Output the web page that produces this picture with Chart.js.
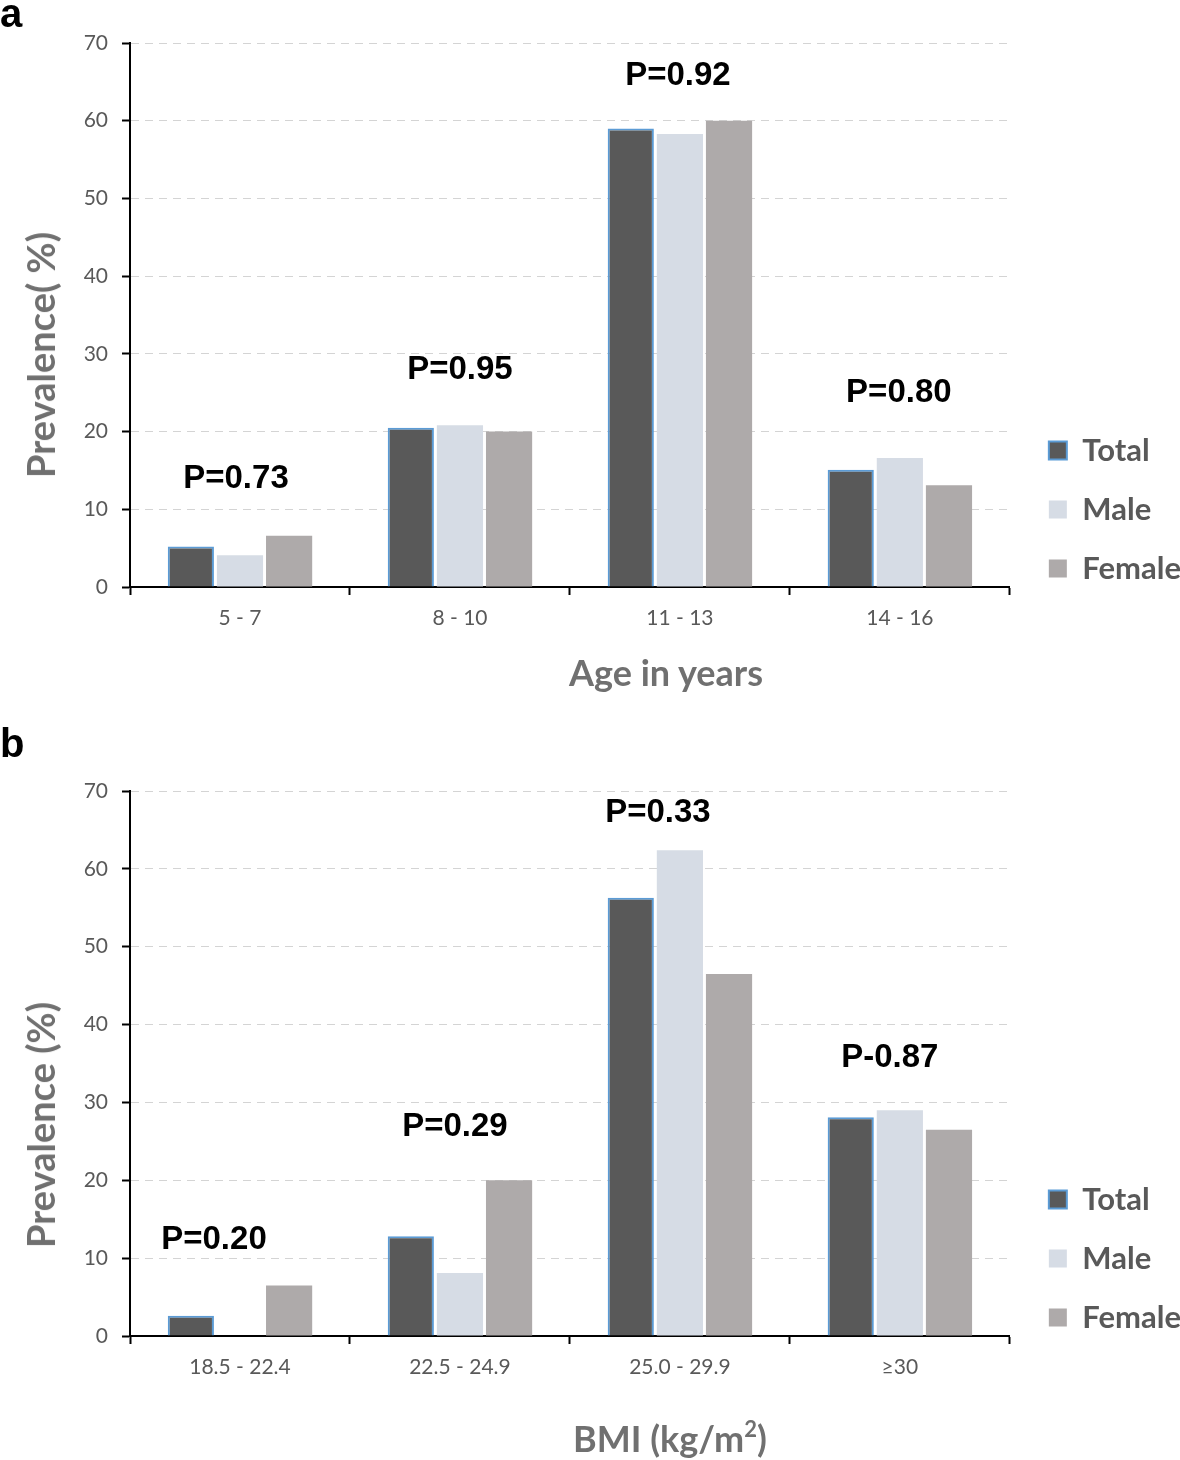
<!DOCTYPE html>
<html>
<head>
<meta charset="utf-8">
<script src="https://cdn.jsdelivr.net/npm/chart.js@4.4.1/dist/chart.umd.min.js"></script>
<style>
  body { margin: 0; background: #fff; overflow: hidden; }
  .panel { position: relative; width: 1180px; height: 730px; }
  .tag { position: absolute; left: 0; font: bold 40px "Liberation Sans", Arial, sans-serif; color: #000; line-height: 1; }
  .xt { position: absolute; transform: translateX(-50%); white-space: nowrap;
        font: bold 36px Lato, sans-serif; color: #707070; line-height: 1; }
  .xt sup { font-size: 22px; vertical-align: 15px; line-height: 0; }
  .yt { position: absolute; transform: translate(-50%, -50%) rotate(-90deg); white-space: nowrap;
        font: bold 38px Lato, sans-serif; color: #707070; line-height: 1; }
</style>
</head>
<body>
<div class="panel">
  <div class="tag" style="top:-7px">a</div>
  <canvas id="chartAge" width="1180" height="730"></canvas>
  <div class="yt" style="left:40px; top:355px">Prevalence( %)</div>
  <div class="xt" style="left:666px; top:654px">Age in years</div>
</div>
<div class="panel">
  <div class="tag" style="top:-7px">b</div>
  <canvas id="chartBmi" width="1180" height="730"></canvas>
  <div class="yt" style="left:40px; top:395px">Prevalence (%)</div>
  <div class="xt" style="left:670px; top:690px">BMI (kg/m<sup>2</sup>)</div>
</div>
<script>
// panel a - age groups
const ageLabels = ['5 - 7', '8 - 10', '11 - 13', '14 - 16'];
const ageTotal  = [5.2, 20.5, 59.0, 15.1];
const ageMale   = [4.1, 20.8, 58.3, 16.6];
const ageFemale = [6.6, 20.0, 60.0, 13.1];
const agePText  = ['P=0.73', 'P=0.95', 'P=0.92', 'P=0.80'];
const agePLevel = [13.9, 27.9, 65.8, 25.0];

// panel b - BMI groups
const bmiLabels = ['18.5 - 22.4', '22.5 - 24.9', '25.0 - 29.9', '≥30'];
const bmiTotal  = [2.6, 12.8, 56.3, 28.1];
const bmiMale   = [0, 8.1, 62.4, 29.0];
const bmiFemale = [6.5, 20.0, 46.5, 26.5];
const bmiPText  = ['P=0.20', 'P=0.29', 'P=0.33', 'P-0.87'];
const bmiPLevel = [12.3, 26.8, 67.2, 35.7];

const yTicks = [0, 10, 20, 30, 40, 50, 60, 70];

const GREY_TXT = '#595959';

// p-value text over each group
const pValuePlugin = {
  id: 'pValues',
  afterDatasetsDraw(chart, args, opts) {
    const ctx = chart.ctx;
    const x = chart.scales.x, y = chart.scales.y;
    ctx.save();
    ctx.font = 'bold 33px "Liberation Sans", Arial, sans-serif';
    ctx.fillStyle = '#000';
    ctx.textAlign = 'center';
    ctx.textBaseline = 'middle';
    opts.text.forEach((t, i) => {
      ctx.fillText(t, x.getPixelForValue(i) + (opts.shift[i] || 0), y.getPixelForValue(opts.level[i]));
    });
    ctx.restore();
  }
};

// nudge legend block into place
const legendNudge = {
  id: 'legendNudge',
  afterLayout(chart, args, opts) {
    const lg = chart.legend;
    lg.left += opts.dx; lg.right += opts.dx;
    lg.top += opts.dy; lg.bottom += opts.dy;
  }
};

function makeChart(id, labels, total, male, female, pText, pLevel, pShift, lay) {
  new Chart(document.getElementById(id), {
    type: 'bar',
    data: {
      labels: labels,
      datasets: [
        { label: 'Total', data: total, backgroundColor: '#595959', borderColor: '#5b9bd5', borderWidth: 2 },
        { label: 'Male', data: male, backgroundColor: '#d6dce5', borderWidth: 0 },
        { label: 'Female', data: female, backgroundColor: '#aeaaaa', borderWidth: 0 }
      ]
    },
    options: {
      responsive: false,
      animation: false,
      categoryPercentage: 0.67,
      barPercentage: 0.94,
      layout: { padding: { top: lay.top, left: 0, right: 0, bottom: 0 } },
      plugins: {
        tooltip: { enabled: false },
        legend: {
          position: 'right',
          align: 'end',
          fullSize: false,
          labels: {
            boxWidth: 18,
            boxHeight: 18,
            padding: 28,
            color: GREY_TXT,
            font: { family: 'Lato', size: 31, weight: 'bold' }
          }
        },
        pValues: { text: pText, level: pLevel, shift: pShift },
        legendNudge: { dx: 11, dy: 25 }
      },
      scales: {
        x: {
          afterFit(s) { s.height = lay.xHeight; },
          grid: { drawOnChartArea: false, drawTicks: true, tickLength: 8, tickColor: '#000', tickWidth: 2, offset: true },
          border: { display: true, color: '#000', width: 2 },
          ticks: { color: GREY_TXT, padding: 11, font: { family: 'Lato', size: 21 } }
        },
        y: {
          min: 0, max: 70,
          afterFit(s) { s.width = 130; },
          afterBuildTicks(s) { s.ticks = yTicks.map(v => ({ value: v })); },
          grid: { color: '#d4d4d4', lineWidth: 1, tickColor: '#000', tickWidth: 2, tickLength: 8, tickBorderDash: [] },
          border: { display: true, color: '#000', width: 2, dash: [8, 6] },
          ticks: { color: GREY_TXT, padding: 14, font: { family: 'Lato', size: 21 } }
        }
      }
    },
    plugins: [pValuePlugin, legendNudge]
  });
}

makeChart('chartAge', ageLabels, ageTotal, ageMale, ageFemale,
  agePText, agePLevel, [-4, 0, -2, -1],
  { top: 43, xHeight: 143 });

makeChart('chartBmi', bmiLabels, bmiTotal, bmiMale, bmiFemale,
  bmiPText, bmiPLevel, [-26, -5, -22, -10],
  { top: 61, xHeight: 124 });
</script>
</body>
</html>
